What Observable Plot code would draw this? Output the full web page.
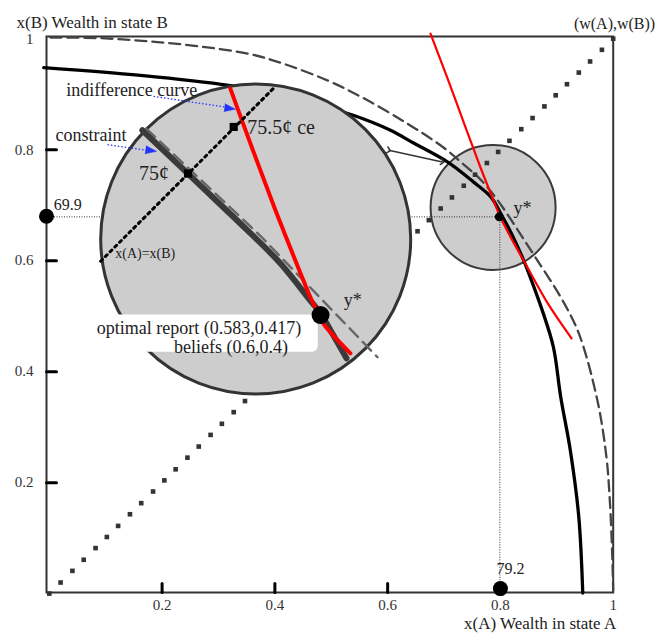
<!DOCTYPE html>
<html><head><meta charset="utf-8">
<script src="https://cdn.jsdelivr.net/npm/d3@7"></script>
<script src="https://cdn.jsdelivr.net/npm/@observablehq/plot@0.6"></script>
<style>body{margin:0;background:#fff} svg{display:block}</style>
</head><body><div id="chart"></div>
<script>
// ---- axes ----
const xTicks = [0.2, 0.4, 0.6, 0.8, 1];
const yTicks = [0.2, 0.4, 0.6, 0.8, 1];
const tickLabels = ["0.2", "0.4", "0.6", "0.8", "1"];

// ---- outer dashed boundary (w(A), w(B)) ----
const boundaryX = [0.002,0.091,0.179,0.268,0.357,0.415,0.493,0.557,0.635,0.699,0.733,0.766,0.795,0.829,0.862,0.907,0.939,0.972,0.988,0.994,0.998,1.000];
const boundaryY = [1.002,1.001,0.995,0.986,0.972,0.955,0.925,0.893,0.847,0.804,0.775,0.745,0.709,0.658,0.606,0.534,0.469,0.348,0.246,0.168,0.078,0.006];

// ---- constraint (solid black) ----
const constraintX = [-0.010,0.162,0.318,0.428,0.539,0.605,0.646,0.706,0.752,0.783,0.800,0.821,0.841,0.853,0.876,0.894,0.907,0.924,0.939,0.946];
const constraintY = [0.948,0.934,0.916,0.895,0.862,0.835,0.812,0.778,0.742,0.715,0.686,0.646,0.601,0.570,0.505,0.444,0.354,0.258,0.138,0.001];

// ---- indifference curve (red) ----
const indiffX = [0.676,0.706,0.736,0.765,0.786,0.800,0.821,0.843,0.884,0.926];
const indiffY = [1.009,0.929,0.846,0.767,0.713,0.678,0.637,0.597,0.523,0.460];

// ---- x(A)=x(B) diagonal, square dots ----
const diagonal = [0.000,0.020,0.041,0.061,0.082,0.102,0.122,0.143,0.163,0.184,0.204,0.224,0.245,0.265,0.286,0.306,0.327,0.347,0.367,0.388,0.408,0.429,0.449,0.469,0.490,0.510,0.531,0.551,0.571,0.592,0.612,0.633,0.653,0.673,0.694,0.714,0.735,0.755,0.776,0.796,0.816,0.837,0.857,0.878,0.898,0.918,0.939,0.959,0.980,1.000];

// ---- optimum y* and its projections ----
const yStar = [{x: 0.798, y: 0.679}];
const axisPoints = [{x: -0.005, y: 0.680}, {x: 0.800, y: 0.009}];
const guides = [{x1: -0.005, y1: 0.679, x2: 0.798, y2: 0.679}, {x1: 0.799, y1: 0.679, x2: 0.799, y2: 0.009}];

// ---- magnifier: small lens and big lens centres ----
const smallLens = [{x: 0.787, y: 0.696}];
const bigLens = [{x: 0.366, y: 0.639}];
const lensLink = [{x1: 0.602, y1: 0.799, x2: 0.697, y2: 0.778}];

// ---- magnified view contents ----
const zConstraintX = [0.165,0.257,0.351,0.410,0.463,0.481,0.504,0.527];
const zConstraintY = [0.835,0.746,0.655,0.595,0.528,0.505,0.465,0.424];
const zBoundaryX = [0.172,0.375,0.582];
const zBoundaryY = [0.838,0.644,0.426];
const zIndiffX = [0.321,0.360,0.401,0.415,0.442,0.468,0.481,0.486,0.534];
const zIndiffY = [0.910,0.802,0.691,0.655,0.586,0.523,0.501,0.487,0.433];
const zDiagonalX = [0.091,0.398];
const zDiagonalY = [0.599,0.911];
const zSquares = [{x: 0.327, y: 0.841}, {x: 0.246, y: 0.757}];
const zStar = [{x: 0.481, y: 0.502}];
const labelBox = [{x1: 0.073, x2: 0.477, y1: 0.435, y2: 0.502}];

// ---- annotations ----
const notes = [
  {x: 0.030, y: 0.908, text: "indifference curve"},
  {x: 0.011, y: 0.826, text: "constraint"},
  {x: 0.084, y: 0.479, text: "optimal report (0.583,0.417)"},
  {x: 0.221, y: 0.444, text: "beliefs (0.6,0.4)"},
  {x: 0.522, y: 0.528, text: "y*"},
  {x: 0.823, y: 0.694, text: "y*"}
];
const priceNotes = [
  {x: 0.351, y: 0.839, text: "75.5¢ ce"},
  {x: 0.159, y: 0.757, text: "75¢"}
];
const smallNotes = [{x: 0.117, y: 0.613, text: "x(A)=x(B)"}];
const valueNotes = [{x: 0.008, y: 0.700, text: "69.9"}, {x: 0.793, y: 0.045, text: "79.2"}];
const pointers = [
  {x1: 0.185, y1: 0.896, x2: 0.318, y2: 0.876, tx: 0.330, ty: 0.873},
  {x1: 0.103, y1: 0.809, x2: 0.179, y2: 0.798, tx: 0.190, ty: 0.797}
];

const serif = "'Liberation Serif', 'DejaVu Serif', serif";
const ink = "#333";
const tickShape = {draw(context, l) { context.moveTo(0, 0); context.lineTo(0, -l); }};

const chart = Plot.plot({
  width: 661, height: 640,
  marginLeft: 46, marginRight: 48.3, marginTop: 36, marginBottom: 48,
  x: {domain: [-0.005, 1.0]},
  y: {domain: [0.002, 1.004]},
  style: {fontFamily: serif, fontSize: "15px", color: ink, background: "white"},
  marks: [
    Plot.frame({stroke: ink, strokeWidth: 2}),
    Plot.axisX(xTicks, {tickSize: 0, tickPadding: 7, fill: ink, fontSize: 15, fontFamily: serif, label: null, tickFormat: (d, i) => tickLabels[i]}),
    Plot.axisY(yTicks, {tickSize: 0, tickPadding: 13, fill: ink, fontSize: 15, fontFamily: serif, label: null, tickFormat: (d, i) => tickLabels[i]}),
    Plot.vector(xTicks.slice(0, 4), {x: d => d, frameAnchor: "bottom", length: 9, rotate: 0, anchor: "start", shape: tickShape, stroke: "black", strokeWidth: 3}),
    Plot.vector(yTicks.slice(0, 4), {y: d => d, frameAnchor: "left", length: 10, rotate: 90, anchor: "start", shape: tickShape, stroke: "black", strokeWidth: 3}),

    // small lens
    Plot.dot(smallLens, {x: "x", y: "y", r: 62.5, fill: "#cdcdcd", stroke: "#3a3a3a", strokeWidth: 2}),
    // guides
    Plot.link(guides, {x1: "x1", y1: "y1", x2: "x2", y2: "y2", stroke: ink, strokeWidth: 1, strokeDasharray: "1,1.5"}),
    // curves
    Plot.line(boundaryX, {x: boundaryX, y: boundaryY, curve: "catmull-rom", stroke: "#444", strokeWidth: 2.3, strokeDasharray: "11,6"}),
    Plot.line(constraintX, {x: constraintX, y: constraintY, curve: "catmull-rom", stroke: "black", strokeWidth: 3.3}),
    Plot.line(indiffX, {x: indiffX, y: indiffY, curve: "catmull-rom", stroke: "#ff0000", strokeWidth: 2.2}),
    // diagonal squares
    Plot.dot(diagonal, {x: d => d, y: d => d, symbol: "square", r: 2.6, fill: ink, stroke: null}),
    // y* and projections
    Plot.dot(yStar, {x: "x", y: "y", r: 4.5, fill: "black"}),
    Plot.dot(axisPoints, {x: "x", y: "y", r: 7.5, fill: "black"}),
    // lens link
    Plot.link(lensLink, {x1: "x1", y1: "y1", x2: "x2", y2: "y2", stroke: ink, strokeWidth: 1.5, markerStart: "arrow", markerEnd: "arrow"}),

    // big lens
    Plot.dot(bigLens, {x: "x", y: "y", r: 155, fill: "#cdcdcd", stroke: "#333", strokeWidth: 3}),
    Plot.line(zConstraintX, {x: zConstraintX, y: zConstraintY, curve: "catmull-rom", stroke: "#3a3a3a", strokeWidth: 6}),
    Plot.line(zBoundaryX, {x: zBoundaryX, y: zBoundaryY, stroke: "#666", strokeWidth: 2.4, strokeDasharray: "12,7"}),
    Plot.line(zIndiffX, {x: zIndiffX, y: zIndiffY, curve: "catmull-rom", stroke: "#ff0000", strokeWidth: 4}),
    Plot.line(zDiagonalX, {x: zDiagonalX, y: zDiagonalY, stroke: "black", strokeWidth: 3, strokeDasharray: "2.5,4.2"}),
    Plot.dot(zSquares, {x: "x", y: "y", symbol: "square", r: 4.6, fill: "black", stroke: null}),
    Plot.rect(labelBox, {x1: "x1", x2: "x2", y1: "y1", y2: "y2", fill: "white", rx: 6}),
    Plot.dot(zStar, {x: "x", y: "y", r: 9, fill: "black"}),

    // pointers
    Plot.link(pointers, {x1: "x1", y1: "y1", x2: "x2", y2: "y2", stroke: "#2233ff", strokeWidth: 1.3, strokeDasharray: "1.5,2"}),
    Plot.vector(pointers, {x: "tx", y: "ty", rotate: 98, length: 11, r: 4, shape: "spike", anchor: "end", fill: "#2233ff", stroke: "#2233ff", strokeWidth: 0.5}),

    // texts
    Plot.text(notes, {x: "x", y: "y", text: "text", textAnchor: "start", fontSize: 18, fill: "#222"}),
    Plot.text(priceNotes, {x: "x", y: "y", text: "text", textAnchor: "start", fontSize: 20, fill: "#222"}),
    Plot.text(smallNotes, {x: "x", y: "y", text: "text", textAnchor: "start", fontSize: 14, fill: "#222"}),
    Plot.text(valueNotes, {x: "x", y: "y", text: "text", textAnchor: "start", fontSize: 16, fill: "#222"}),
    Plot.text(["x(B) Wealth in state B"], {text: d => d, frameAnchor: "top-left", dx: -30, dy: -21, textAnchor: "start", fontSize: 17, fill: "#222"}),
    Plot.text(["(w(A),w(B))"], {text: d => d, frameAnchor: "top-right", dx: 42, dy: -19, textAnchor: "end", fontSize: 16, fill: "#222"}),
    Plot.text(["x(A) Wealth in state A"], {text: d => d, frameAnchor: "bottom-right", dx: 3, dy: 36, textAnchor: "end", fontSize: 17, fill: "#222"})
  ]
});
document.getElementById("chart").appendChild(chart);
</script>
</body></html>
